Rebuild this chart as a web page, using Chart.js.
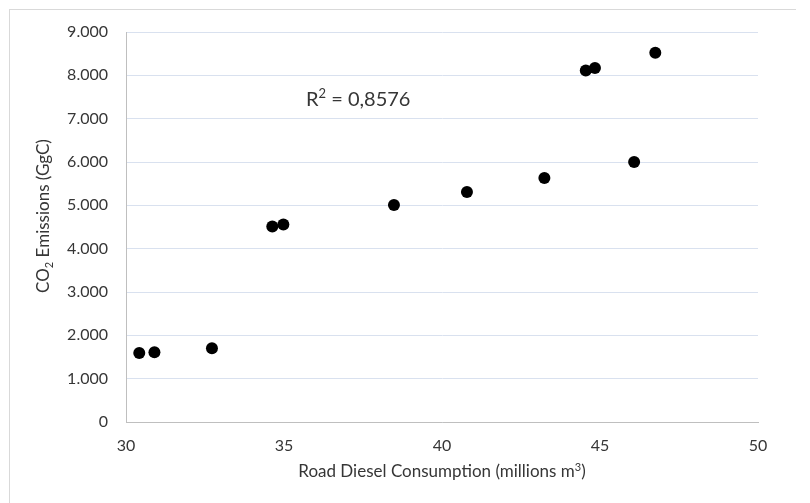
<!DOCTYPE html>
<html>
<head>
<meta charset="utf-8">
<script src="https://cdn.jsdelivr.net/npm/chart.js@4.4.1/dist/chart.umd.min.js"></script>
<style>
  html, body { margin: 0; padding: 0; background: #fff; }
  #frame {
    position: absolute; left: 9px; top: 9px; width: 786px; height: 520px;
    border-top: 1px solid #d9d9d9; border-left: 1px solid #d9d9d9;
  }
  #chart { position: absolute; left: 0; top: 0; }
</style>
</head>
<body>
<div id="frame"></div>
<canvas id="chart" width="810" height="503"></canvas>
<script>
// ---- data ----
const diesel    = [30.42, 30.90, 32.72, 34.63, 34.98, 38.48, 40.79, 43.24, 44.55, 44.84, 46.08, 46.75];
const emissions = [1590, 1610, 1700, 4510, 4560, 5010, 5310, 5630, 8110, 8170, 6000, 8520];
const xTickLabels = ['30', '35', '40', '45', '50'];
const yTickLabels = ['0', '1.000', '2.000', '3.000', '4.000', '5.000', '6.000', '7.000', '8.000', '9.000'];
const rSquaredValue = '0,8576';

const FONT = 'Lato, "Open Sans", sans-serif';
const TEXT = '#363636';

// draw a run of [text, size, shift] pieces starting at x (shift < 0 = raised)
function drawRuns(ctx, runs, x, y, align) {
    let total = 0;
    runs.forEach(r => { ctx.font = r[1] + 'px ' + FONT; r.w = ctx.measureText(r[0]).width; total += r.w; });
    let cx = align === 'center' ? x - total / 2 : x;
    ctx.textAlign = 'left';
    runs.forEach(r => {
        ctx.font = r[1] + 'px ' + FONT;
        ctx.fillText(r[0], cx, y + r[2]);
        cx += r.w;
    });
}

// axis titles + trendline label (Excel-style sub/superscripts)
const labelsPlugin = {
    id: 'labels',
    afterDraw(chart) {
        const ctx = chart.ctx;
        const area = chart.chartArea;
        ctx.save();
        ctx.fillStyle = TEXT;
        ctx.textBaseline = 'middle';

        // x title
        drawRuns(ctx, [
            ['Road Diesel Consumption (millions m', 17, 0],
            ['3', 11, -5],
            [')', 17, 0]
        ], (area.left + area.right) / 2, 472, 'center');

        // y title, rotated
        ctx.save();
        ctx.translate(44, 216);
        ctx.rotate(-Math.PI / 2);
        drawRuns(ctx, [
            ['CO', 17, 0],
            ['2', 11, 5],
            [' Emissions (GgC)', 17, 0]
        ], 0, 0, 'center');
        ctx.restore();

        // R² label
        drawRuns(ctx, [
            ['R', 20, 0],
            ['2', 13, -6],
            [' = ' + rSquaredValue, 20, 0]
        ], 306, 100, 'left');
        ctx.restore();
    }
};

const ctx = document.getElementById('chart').getContext('2d');
new Chart(ctx, {
    type: 'scatter',
    data: {
        datasets: [{
            data: diesel.map((d, i) => ({ x: d, y: emissions[i] })),
            backgroundColor: '#000',
            borderWidth: 0,
            pointRadius: 6,
            pointHoverRadius: 6
        }]
    },
    options: {
        responsive: false,
        animation: false,
        layout: { padding: { top: 32, right: 52, left: 0, bottom: 0 } },
        plugins: {
            legend: { display: false },
            tooltip: { enabled: false }
        },
        scales: {
            x: {
                type: 'linear',
                min: 30,
                max: 50,
                afterFit: (s) => { s.height = 81; },
                ticks: {
                    stepSize: 5,
                    padding: 14,
                    color: TEXT,
                    font: { family: FONT, size: 16 },
                    callback: (v, i) => xTickLabels[i]
                },
                grid: { display: false, drawTicks: false },
                border: { display: true, color: '#bfbfbf', width: 1 }
            },
            y: {
                min: 0,
                max: 9000,
                afterFit: (s) => { s.width = 126; },
                ticks: {
                    stepSize: 1000,
                    padding: 18,
                    color: TEXT,
                    font: { family: FONT, size: 16 },
                    callback: (v, i) => yTickLabels[i]
                },
                grid: { color: '#d9e1ef', lineWidth: 1, drawTicks: false },
                border: { display: true, color: '#bfbfbf', width: 1 }
            }
        }
    },
    plugins: [labelsPlugin]
});
</script>
</body>
</html>
